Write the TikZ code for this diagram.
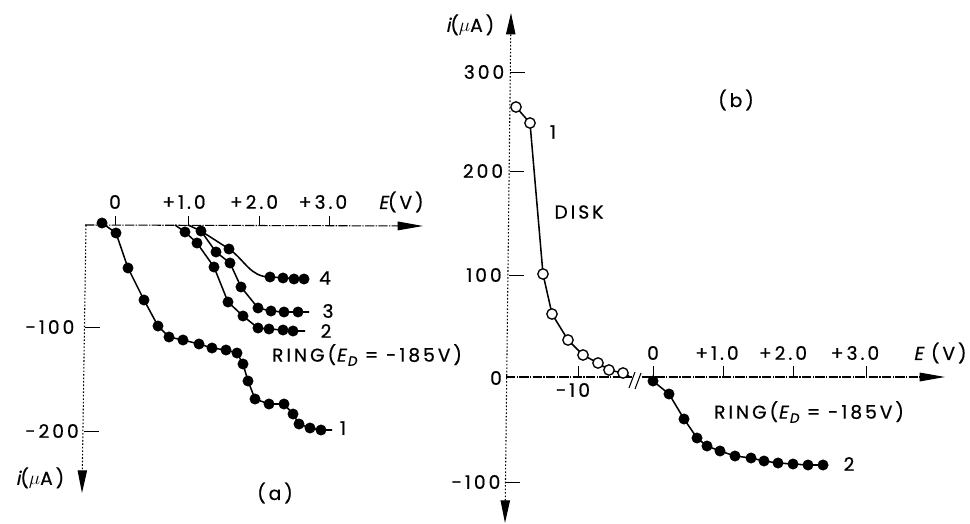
\documentclass[tikz,border=0pt]{standalone}
\usepackage{fontspec}
\setmainfont[LetterSpace=16,FakeBold=0.6]{Poppins}
\newfontfamily\slfont[FakeSlant=0.2,LetterSpace=16,FakeBold=0.6]{Poppins}
\usetikzlibrary{arrows.meta}
\newcommand{\subD}{\kern1.2pt\raisebox{-0.4ex}{\fontsize{10}{10}\selectfont\slfont D}}
\begin{document}
\begin{tikzpicture}[x=0.75pt,y=-0.75pt,
  lab/.style={font=\fontsize{14}{16}\selectfont, inner sep=0pt},
  haxis/.style={line width=0.8pt, dash pattern=on 7pt off 1pt on 1pt off 1pt},
  vaxis/.style={line width=0.8pt, dash pattern=on 1.2pt off 1.4pt},
  tickmark/.style={line width=0.7pt},
  curve/.style={line width=1.15pt},
  fmark/.style={only marks, mark=*, mark size=3.9pt, mark options={fill=black}},
  omark/.style={only marks, mark=*, mark size=3.9pt, mark options={fill=white, line width=1pt}},
  harrow/.style={-{Triangle[length=19pt,width=6.5pt]}},
]
\useasboundingbox (0,0) rectangle (970,524);
\fill[white] (0,0) rectangle (970,524);

% ---------------- panel (a) ----------------
\draw[haxis, harrow] (85,225) -- (423,226);
\draw[vaxis, -{Triangle[length=17pt,width=7pt]}] (86,225) -- (82,493);
\foreach \x in {115,188,259,329} \draw[tickmark] (\x,225) -- (\x,216);
\draw[tickmark] (85,327) -- (100,327);
\draw[tickmark] (84,431) -- (99,431);

\node[lab] (a0) at (115,202) {0};
\node[lab] (a1) at (184,202) {+1.0};
\node[lab] (a2) at (254,202) {+2.0};
\node[lab] (a3) at (323,202) {+3.0};
\node[lab] (aE) at (401,202) {{\slfont E}(V)};
\node[lab] (am1) at (50,327) {-100};
\node[lab] (am2) at (52,431) {-200};
\node[lab] (ai) at (40,478) {{\slfont i}($\mu$A)};
\node[lab] (acap) at (275,493) {(a)};
\node[lab] (aring) at (367,355) {RING({\slfont E}\subD{} = -185V)};
\node[lab] (al4) at (325,278) {4};
\node[lab] (al3) at (328,311) {3};
\node[lab] (al2) at (326,331) {2};
\node[lab] (al1) at (343,428) {1};

% curve 1
\draw[curve] plot coordinates {(102,223) (116,233) (128,268) (144,300) (158,326) (169,337) (183,340) (199,344) (212,348) (226,350) (237,353) (243,364) (248,381) (255,399) (269,404) (284,404) (293,414) (299,424) (310,428) (321,430) (332,430)};
\draw[fmark] plot coordinates {(102,223) (116,233) (128,268) (144,300) (158,326) (169,337) (183,340) (199,344) (212,348) (226,350) (237,353) (243,364) (248,381) (255,399) (269,404) (284,404) (293,414) (299,424) (310,428) (321,430)};
% curve 2
\draw[curve] plot coordinates {(175,225) (185,232) (197,243) (214,267) (228,302) (243,316) (258,328) (269,329) (283,330) (293,331) (305,331)};
\draw[fmark] plot coordinates {(185,232) (197,243) (214,267) (228,302) (243,316) (258,328) (269,329) (283,330) (293,331)};
% curve 3
\draw[curve] plot coordinates {(188,225) (201,231) (216,252) (230,263) (241,287) (258,308) (271,311) (284,312) (298,312) (309,312)};
\draw[fmark] plot coordinates {(201,231) (216,252) (230,263) (241,287) (258,308) (271,311) (284,312) (298,312)};
% curve 4
\draw[curve] (201,231) -- (229,249) .. controls (245,260) and (250,277) .. (270,277) -- (304,279);
\draw[fmark] plot coordinates {(229,249) (270,277) (283,278) (294,279) (304,279)};

% ---------------- panel (b) ----------------
\draw[vaxis, {Triangle[length=17pt,width=7pt]}-{Triangle[length=16pt,width=7pt]}] (505,523) -- (511,13);
\draw[haxis] (506,377) -- (632,377);
\draw[haxis, harrow] (642,377) -- (945,377);
\draw[line width=0.8pt] (629,388) -- (635,372);
\draw[line width=0.8pt] (635,389) -- (641,373);
\foreach \x in {578,653,723,793,866} \draw[tickmark] (\x,377) -- (\x,366);
\draw[tickmark] (510,72) -- (525,72);
\draw[tickmark] (510,171) -- (524,171);
\draw[tickmark] (509,275) -- (524,275);
\draw[tickmark] (505,482) -- (520,482);

\node[lab] (b300) at (484,72) {300};
\node[lab] (b200) at (483,171) {200};
\node[lab] (b100) at (484,275) {100};
\node[lab] (b0) at (496,378) {0};
\node[lab] (bm100) at (476,482) {-100};
\node[lab] (bi) at (470,25) {{\slfont i}($\mu$A)};
\node[lab] (bm1) at (573,390) {-1\,0};
\node[lab] (bx0) at (653,353) {0};
\node[lab] (bx1) at (717,353) {+1.0};
\node[lab] (bx2) at (783,353) {+2.0};
\node[lab] (bx3) at (855,353) {+3.0};
\node[lab] (bE) at (940,353) {{\slfont E} (V)};
\node[lab] (bdisk) at (579,212) {DISK};
\node[lab] (bl1) at (553,132) {1};
\node[lab] (bcap) at (736,100) {(b)};
\node[lab] (bring) at (809,412) {RING({\slfont E}\subD{} = -185V)};
\node[lab] (bl2) at (849,464) {2};

% disk curve 1
\draw[curve] plot coordinates {(516,107) (530,123) (543,274) (552,314) (568,340) (583,355) (598,363) (609,370) (623,373) (629,376)};
\draw[omark] plot coordinates {(516,107) (530,123) (543,274) (552,314) (568,340) (583,355) (598,363) (609,370) (623,373)};
% ring curve 2
\draw[curve] plot coordinates {(650,377) (653,381) (669,394) (684,419) (697,438) (707,446) (720,451) (735,456) (751,458) (764,461) (778,463) (793,464) (808,465) (823,465)};
\draw[fmark] plot coordinates {(653,381) (669,394) (684,419) (697,438) (707,446) (720,451) (735,456) (751,458) (764,461) (778,463) (793,464) (808,465) (823,465)};
\end{tikzpicture}
\end{document}
